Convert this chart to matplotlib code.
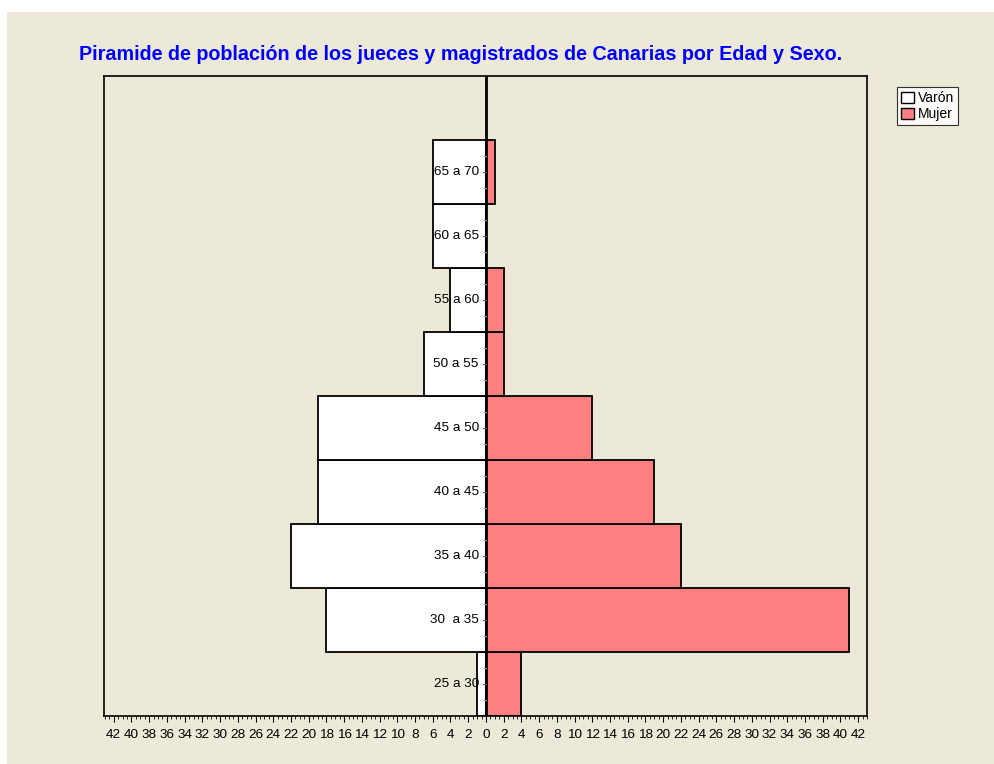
import matplotlib.pyplot as plt
import matplotlib.patches as mpatches
from matplotlib.ticker import MultipleLocator, FuncFormatter
import numpy as np

# age groups, bottom to top
edades = ['25 a 30', '30  a 35', '35 a 40', '40 a 45', '45 a 50',
          '50 a 55', '55 a 60', '60 a 65', '65 a 70']
varon = [1, 18, 22, 19, 19, 7, 4, 6, 6]
mujer = [4, 41, 22, 19, 12, 2, 2, 0, 1]

fondo = '#ECE9D8'
rosa = '#FF8080'

plt.rcParams['font.family'] = ['Liberation Sans', 'DejaVu Sans']

fig = plt.figure(figsize=(9.94, 7.64), dpi=100, facecolor='white')
# beige panel with a thin white margin top/left
fig.patches.append(mpatches.Rectangle((7 / 994, 0), 1, 1 - 12 / 764,
                                      transform=fig.transFigure,
                                      facecolor=fondo, edgecolor='none', zorder=-10))

ax = fig.add_axes([104 / 994, 48 / 764, 763 / 994, 640 / 764])
ax.set_facecolor(fondo)

y = np.arange(len(edades))
ax.barh(y, [-v for v in varon], height=1.0, color='white',
        edgecolor='black', linewidth=1.3, zorder=2)
ax.barh(y, mujer, height=1.0, color=rosa,
        edgecolor='black', linewidth=1.3, zorder=2)

ax.set_xlim(-43.1, 43.0)
ax.set_ylim(-0.5, 9.5)

# centre axis with the age labels
ax.axvline(0, color='black', linewidth=2, zorder=4)
for yi, lab in zip(y, edades):
    ax.text(-0.8, yi, lab, ha='right', va='center', fontsize=9.7, zorder=5)
    ax.plot([-0.35, 0], [yi, yi], color='#555555', linewidth=0.8, zorder=5)
    for d in (-0.25, 0.25):
        ax.plot([-0.2, 0], [yi + d, yi + d], color='#999999', linewidth=0.8, zorder=5)

ax.set_yticks([])
ax.xaxis.set_major_locator(MultipleLocator(2))
ax.xaxis.set_minor_locator(MultipleLocator(0.5))
ax.xaxis.set_major_formatter(FuncFormatter(lambda v, p: f'{abs(v):.0f}'))
ax.tick_params(axis='x', which='major', length=4, width=0.8, labelsize=9.7, pad=5)
ax.tick_params(axis='x', which='minor', length=2, width=0.6)
for s in ax.spines.values():
    s.set_linewidth(1.2)

fig.text(461 / 994, 1 - 55 / 764,
         'Piramide de población de los jueces y magistrados de Canarias por Edad y Sexo.',
         ha='center', va='center', color='#0000FF', fontsize=14.2, fontweight='bold')

handles = [mpatches.Patch(facecolor='white', edgecolor='black', label='Varón'),
           mpatches.Patch(facecolor=rosa, edgecolor='black', label='Mujer')]
leg = fig.legend(handles=handles, loc='upper left', bbox_to_anchor=(897 / 994, 1 - 87 / 764),
                 fontsize=10, frameon=True, fancybox=False, handlelength=0.9,
                 handleheight=0.9, handletextpad=0.3, borderpad=0.3,
                 labelspacing=0.15, borderaxespad=0)
leg.get_frame().set_edgecolor('black')
leg.get_frame().set_linewidth(0.8)

fig.savefig('out.png', dpi=100, facecolor=fig.get_facecolor())
